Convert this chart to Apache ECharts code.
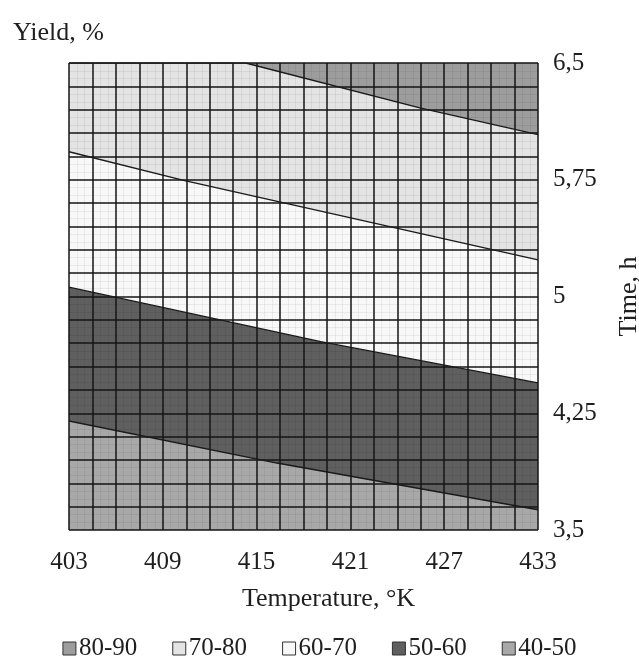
<!DOCTYPE html>
<html>
<head>
<meta charset="utf-8">
<script src="https://cdn.jsdelivr.net/npm/echarts@6/dist/echarts.min.js"></script>
<style>
html,body{margin:0;padding:0;background:#fff;}
#c{width:639px;height:668px;}
</style>
</head>
<body>
<div id="c"></div>
<script>
// ---- data ----
const xMin = 403, xMax = 433;
const yMin = 3.5, yMax = 6.5;
const xTickLabels = [403, 409, 415, 421, 427, 433];
const yTickLabels = [3.5, 4.25, 5, 5.75, 6.5];
const bandNames = ['80-90', '70-80', '60-70', '50-60', '40-50'];
const bandColors = ['#9d9d9d', '#e4e4e4', '#f8f8f8', '#5f5f5f', '#a8a8a8'];
// upper edge of each band (band fills from this edge down to the axis bottom; later bands overlay)
const edgeTop = [[403, 6.5], [433, 6.5]];
const edge90_80 = [[403, 6.5], [414.3, 6.5], [425.5, 6.21], [433, 6.04]];
const edge80_70 = [[403, 5.93], [410.4, 5.744], [433, 5.235]];
const edge70_60 = [[403, 5.06], [419.1, 4.71], [433, 4.445]];
const edge60_50 = [[403, 4.2], [416.3, 3.93], [433, 3.63]];
const bandEdges = [edgeTop, edge90_80, edge80_70, edge70_60, edge60_50];
const contourLines = [edge90_80, edge80_70, edge70_60, edge60_50];
const gridCells = 20;

const FONT = 'Liberation Serif';
const TXT = '#1e1e1e';

const series = [];
bandNames.forEach((name, i) => {
  series.push({
    name: name,
    type: 'line',
    xAxisIndex: 0, yAxisIndex: 0,
    data: bandEdges[i],
    showSymbol: false,
    symbol: 'none',
    lineStyle: { width: 0, opacity: 0 },
    areaStyle: { color: bandColors[i], opacity: 1, origin: 'start' },
    itemStyle: { color: bandColors[i] },
    silent: true,
    animation: false,
    z: 2
  });
});
contourLines.forEach((pts, i) => {
  series.push({
    name: 'edge' + i,
    type: 'line',
    xAxisIndex: 0, yAxisIndex: 0,
    data: pts,
    showSymbol: false,
    symbol: 'none',
    lineStyle: { width: 1.4, color: '#1a1a1a' },
    silent: true,
    animation: false,
    z: 8
  });
});

const chart = echarts.init(document.getElementById('c'), null, { renderer: 'canvas' });
chart.setOption({
  animation: false,
  backgroundColor: '#ffffff',
  title: {
    text: 'Yield, %',
    left: 8, top: 15,
    textStyle: { fontFamily: FONT, fontSize: 26, fontWeight: 'normal', color: TXT }
  },
  grid: { left: 69, right: 101, top: 63, bottom: 138, outerBoundsMode: 'none', containLabel: false },
  legend: {
    data: bandNames.map((n, i) => ({
      name: n,
      itemStyle: { color: bandColors[i], borderColor: '#333', borderWidth: 1 }
    })),
    icon: 'rect',
    itemWidth: 13, itemHeight: 13,
    itemGap: 35,
    left: 'center', bottom: 2,
    textStyle: { fontFamily: FONT, fontSize: 25, color: TXT, padding: [0, 0, 0, -2] }
  },
  xAxis: [
    {
      type: 'value', min: xMin, max: xMax,
      axisLine: { show: false },
      axisTick: { show: false },
      splitLine: { show: false },
      axisLabel: {
        customValues: xTickLabels,
        fontFamily: FONT, fontSize: 25, color: TXT, margin: 20
      },
      name: 'Temperature, °K',
      nameLocation: 'middle',
      nameGap: 56,
      nameTextStyle: { fontFamily: FONT, fontSize: 26, color: TXT, padding: [0, 0, 0, 50] }
    },
    {
      type: 'value', min: 0, max: gridCells, interval: 1,
      axisLine: { show: false }, axisTick: { show: false }, axisLabel: { show: false },
      splitLine: { show: true, lineStyle: { color: '#151515', width: 1.5 } },
      minorTick: { show: false, splitNumber: 3 },
      minorSplitLine: { show: true, lineStyle: { color: 'rgba(0,0,0,0.06)', width: 1 } },
      z: 5
    }
  ],
  yAxis: [
    {
      type: 'value', min: yMin, max: yMax, position: 'right',
      axisLine: { show: false },
      axisTick: { show: false },
      splitLine: { show: false },
      axisLabel: {
        customValues: yTickLabels,
        formatter: v => String(v).replace('.', ','),
        fontFamily: FONT, fontSize: 25, color: TXT, margin: 15
      },
      name: 'Time, h',
      nameLocation: 'middle',
      nameRotate: 90,
      nameGap: 78,
      nameTextStyle: { fontFamily: FONT, fontSize: 26, color: TXT }
    },
    {
      type: 'value', min: 0, max: gridCells, interval: 1, position: 'left',
      axisLine: { show: false }, axisTick: { show: false }, axisLabel: { show: false },
      splitLine: { show: true, lineStyle: { color: '#151515', width: 1.5 } },
      minorTick: { show: false, splitNumber: 3 },
      minorSplitLine: { show: true, lineStyle: { color: 'rgba(0,0,0,0.06)', width: 1 } },
      z: 5
    }
  ],
  series: series
});
</script>
</body>
</html>
